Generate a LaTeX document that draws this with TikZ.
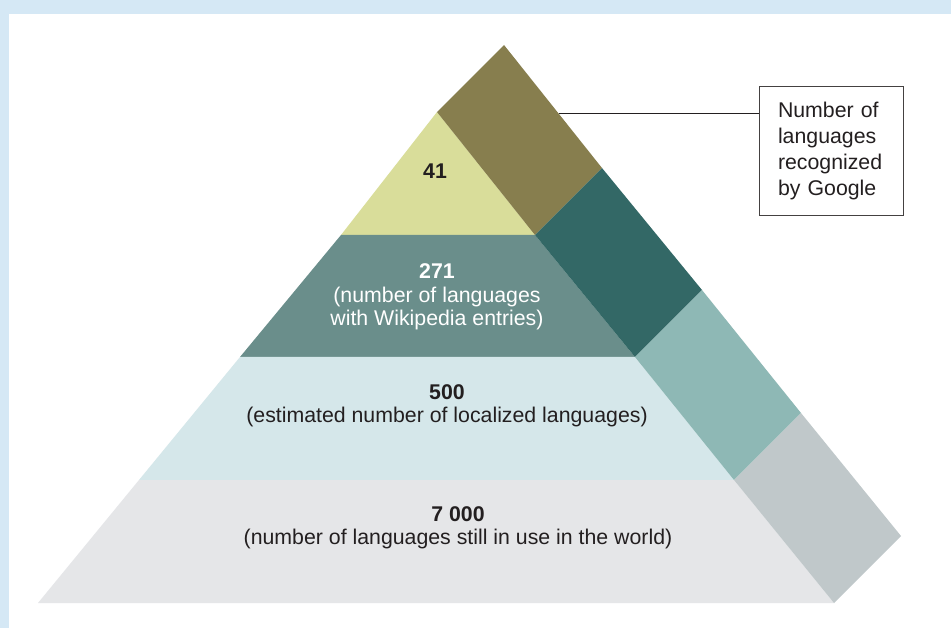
\documentclass[tikz,border=0pt]{standalone}
\usepackage{fontspec}
\setmainfont{Liberation Sans}
\usetikzlibrary{positioning,calc}
\definecolor{frame}{HTML}{D5E8F5}
\definecolor{ink}{HTML}{231F20}
\definecolor{olive}{HTML}{877E4E}
\definecolor{lime}{HTML}{D9DD9A}
\definecolor{sea}{HTML}{6A8E8B}
\definecolor{deep}{HTML}{336866}
\definecolor{mist}{HTML}{D5E7EA}
\definecolor{aqua}{HTML}{8EB8B5}
\definecolor{fog}{HTML}{E5E6E8}
\definecolor{stone}{HTML}{C0C8CA}

\begin{document}
\begin{tikzpicture}[x=1pt,y=-1pt,font=\fontsize{21.3}{23.5}\selectfont,text=ink]
  \useasboundingbox (0,0) rectangle (951,628);
  \fill[frame] (0,0) rectangle (951,628);
  \fill[white] (9,14) rectangle (951,628);
  \coordinate (top) at (437,112);
  \coordinate (l1) at (341,235); \coordinate (r1) at (535,235);
  \coordinate (l2) at (240,357); \coordinate (r2) at (635,357);
  \coordinate (l3) at (139,480); \coordinate (r3) at (734,480);
  \coordinate (l4) at (38,603);  \coordinate (r4) at (834,603);
  \coordinate (s0) at ($(top)+(67,-67)$);
  \coordinate (s1) at ($(r1)+(67,-67)$);
  \coordinate (s2) at ($(r2)+(67,-67)$);
  \coordinate (s3) at ($(r3)+(67,-67)$);
  \coordinate (s4) at ($(r4)+(67,-67)$);
  \fill[lime] (top) -- (r1) -- (l1) -- cycle;
  \fill[sea] (l1) -- (r1) -- (r2) -- (l2) -- cycle;
  \fill[mist] (l2) -- (r2) -- (r3) -- (l3) -- cycle;
  \fill[fog] (l3) -- (r3) -- (r4) -- (l4) -- cycle;
  \fill[olive] (top) -- (s0) -- (s1) -- (r1) -- cycle;
  \fill[deep] (r1) -- (s1) -- (s2) -- (r2) -- cycle;
  \fill[aqua] (r2) -- (s2) -- (s3) -- (r3) -- cycle;
  \fill[stone] (r3) -- (s3) -- (s4) -- (r4) -- cycle;
  \node[font=\fontsize{21.3}{23.5}\selectfont\bfseries] (t41) at (435,171) {41};
  \node[align=center,text=white] (t271) at (437,297) {\textbf{271}\\(number of languages\\with Wikipedia entries)};
  \node[align=center] (t500) at (447,406) {\textbf{500}\\(estimated number of localized languages)};
  \node[align=center] (t7000) at (458,528) {\textbf{7 000}\\(number of languages still in use in the world)};
  \node[draw=ink!85,line width=0.8pt,align=left,text width=106pt,inner xsep=19pt,minimum height=129pt,font=\fontsize{21.3}{26}\selectfont] (google) at (831,150.5) {Number of\\languages\\recognized\\by Google};
  \coordinate (lead) at ($(s0)!0.56!(s1)$);
  \draw[ink,line width=1pt] (lead) -- (lead -| google.west);
\end{tikzpicture}
\end{document}
